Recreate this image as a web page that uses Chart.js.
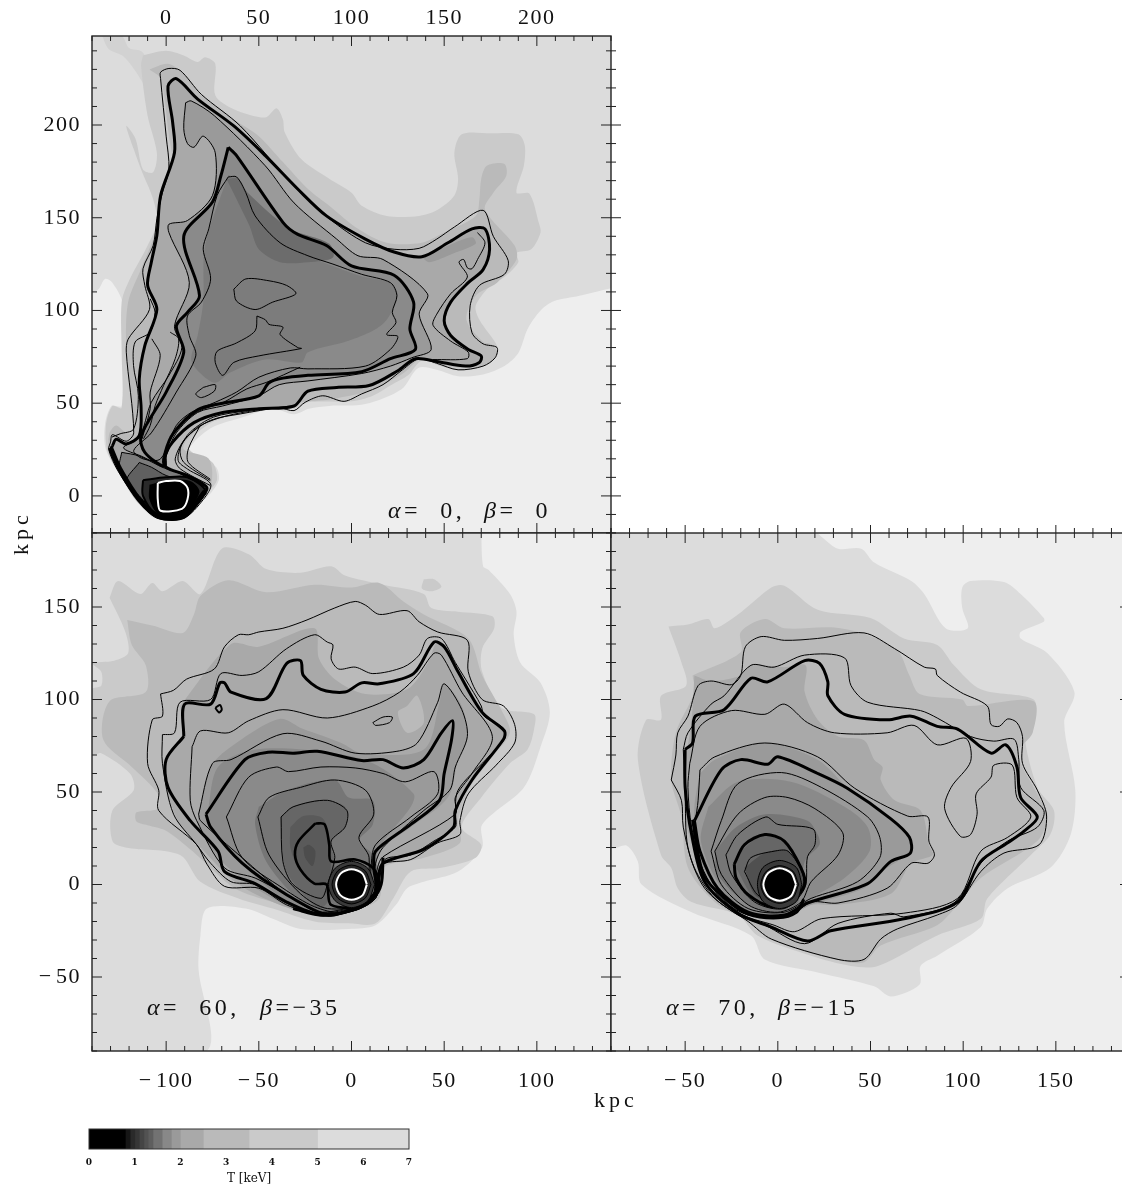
<!DOCTYPE html>
<html>
<head>
<meta charset="utf-8">
<script src="https://cdn.jsdelivr.net/npm/chart.js@4/dist/chart.umd.min.js"></script>
<style>
html,body{margin:0;background:#fff}
body{width:1122px;height:1186px;overflow:hidden;position:relative}
canvas{position:absolute}
.t{position:absolute;font:22px "Liberation Serif",serif;color:#111;white-space:pre;line-height:26px}
.t i{font-style:italic}
.n{font-size:24px;letter-spacing:3.5px}
</style>
</head>
<body>
<canvas id="panelA" width="640" height="545" style="left:0;top:0"></canvas>
<canvas id="panelB" width="617" height="575" style="left:0;top:525px"></canvas>
<canvas id="panelC" width="525" height="575" style="left:605px;top:525px"></canvas>
<canvas id="tempBar" width="360" height="66" style="left:70px;top:1120px"></canvas>
<div class="t n" style="left:388px;top:497px"><i>α</i>=  0,</div>
<div class="t n" style="left:484px;top:497px"><i>β</i>=  0</div>
<div class="t n" style="left:147px;top:994px"><i>α</i>=  60,</div>
<div class="t n" style="left:260px;top:994px"><i>β</i>=−35</div>
<div class="t n" style="left:666px;top:994px"><i>α</i>=  70,</div>
<div class="t n" style="left:778px;top:994px"><i>β</i>=−15</div>
<div class="t" style="left:594px;top:1087px;letter-spacing:4px">kpc</div>
<div class="t" style="left:-2px;top:520px;width:46px;text-align:center;letter-spacing:4px;transform:rotate(-90deg)">kpc</div>
<script>
// temperature bands of the colour bar
var tempEdges = [0, 0.8, 0.9, 1, 1.1, 1.2, 1.3, 1.4, 1.6, 1.8, 2, 2.5, 3.5, 5, 7];
var tempGreys = ['#000000', '#161616', '#2a2a2a', '#363636', '#454545', '#525252', '#5e5e5e', '#727272', '#888888', '#9a9a9a', '#a9a9a9', '#bababa', '#cacaca', '#dcdcdc'];
var tempTicks = [0, 1, 2, 3, 4, 5, 6, 7];

// axis labels
var aTickX = [0, 50, 100, 150, 200];
var aTickY = [0, 50, 100, 150, 200];
var bTickX = [-100, -50, 0, 50, 100];
var bTickY = [-50, 0, 50, 100, 150];
var cTickX = [-50, 0, 50, 100, 150];

// ---- panel alpha=0 beta=0, contours in kpc
var aT5 = [[240,112],[223,108],[209,105],[202,100],[195,90],[190,77],[182.5,70],[171,65.5],[157.5,64.5],[146,68],[136,69],[127,57.5],[107.5,49.5],[88,48.5],[77,47],[69,44],[57.5,47],[40,42],[25,37],[15,29],[11,21.5],[26.5,16],[28.5,9],[24.5,2],[19,-3.5],[9.5,-12],[-6,-12],[-13.5,-5.5],[-24,10],[-32.5,25],[-33,38.5],[-29.5,48.5],[-24,48.5],[-23.5,77],[-23.5,104],[-29,115],[-33,117],[-36.5,111.5],[-40,110.5],[-40,248],[240,248]];
var aTop = [[-34.5,248],[-31,241],[-23,237],[-16.5,229],[-10,218],[-4,204],[-1,204],[-8.5,230.5],[-13,239.5],[-20,241.5],[-24,248]];
var aT35 = [[-12.5,237.5],[0,240],[9.5,237.5],[17,234],[21,236.5],[26.5,233],[26.5,216],[36.5,208.5],[53.5,204],[59.5,209],[63,203],[64,196],[73,181.5],[88,171],[100,163.5],[105.5,156.5],[119,151],[136.5,151],[146,154],[155.5,162],[157.5,171],[155.5,185],[159.5,195],[175,195.5],[190,195],[193.5,189],[193,178],[189,163.5],[196,163],[201,147.5],[202,142],[197,133],[189,131],[190,126],[182.5,118],[175,113.5],[167,102.5],[169,95],[178.5,81],[178.5,75.5],[171,70],[159.5,67.5],[148,70],[138,73],[130.5,65],[121,59.5],[111.5,54],[100,51],[76.5,50.5],[69,47],[59.5,48.5],[40,44],[26.5,40.5],[17,34],[12.5,25],[25,18],[27.5,9],[24,3.5],[17,-3.5],[9.5,-11],[-5,-11],[-15.5,-3.5],[-25,11.5],[-31.5,23.5],[-32.5,38],[-29,48.5],[-24,47.5],[-24,77.5],[-24,104.5],[-20.5,115],[-10,135],[-5,147.5],[-7,160],[-13.5,176],[-17.5,187],[-21.5,199.5],[-16.5,192.5],[-12.5,176],[-7,174.5],[-5,185],[-10,205],[-13.5,232]];
var aT25 = [[-9,230],[1,233],[9.5,227.5],[19,216],[36.5,203],[50,194],[63,180],[76.5,165.5],[88,156.5],[103.5,144],[119,136.5],[138,136.5],[150,142],[167,151],[169,160],[170,171],[173,178],[182.5,179],[183.5,172.5],[176.5,163.5],[172,154.5],[188,135],[189,127.5],[178.5,115],[167,108],[162,95],[171,83],[175,82],[178.5,77.5],[175,72],[161.5,69],[148,71],[138,74.5],[128.5,66.5],[119,61],[107.5,56],[88,52],[73,50.5],[67,47],[57.5,50.5],[38,45],[25,42],[11.5,30.5],[9.5,25],[23,20],[24.5,7],[19,-2],[9.5,-11],[-6,-11],[-15.5,-2],[-27,16],[-31,27],[-30.5,34],[-27,38],[-21.5,34],[-17.5,34],[-21.5,81],[-20.5,104.5],[-13.5,122.5],[-7,138.5],[-5,147.5],[-2,162],[3.5,178],[1.5,194],[-3,225]];
var aLine1 = [[-30,29],[-29,33],[-21.5,29.5],[-17.5,34],[-21.5,77.5],[-20.5,84.5],[-9,100.5],[-11.5,113.5],[-12.5,122.5],[-7,135],[-5,149.5],[-2,163.5],[1.5,176],[0,194],[-3,225],[-3,228.5],[1.5,230.5],[7.5,229.5],[19,216.5],[40,199.5],[69,167],[88,149.5],[107.5,136.5],[123,133],[136.5,133.5],[146,138.5],[155.5,145],[171,154],[176.5,140],[184.5,127],[182.5,119.5],[169,113.5],[164,102.5],[165,88],[171,82],[178.5,80],[177.5,74.5],[171,70],[157.5,68],[146,71.5],[136.5,74],[127.5,68],[117,60],[105.5,55],[96,51],[84.5,54],[75,50.5],[69,46],[61,47.5],[44,45.5],[28.5,42],[17,37],[8.5,28],[6.5,19],[11.5,14.5],[24,6.5],[20,-2],[9.5,-12],[-5,-12],[-15.5,-2],[-26,13.5],[-31,25]];
var aLine2 = [[-29,27],[-27,30.5],[-21.5,28],[-14.5,32.5],[-13.5,47],[-14.5,63],[-11.5,81],[-5,100.5],[-10,113.5],[-8,126],[-5,140.5],[-3,162],[4.5,185],[3.5,201.5],[1,221],[5.5,225],[17,214],[36.5,199.5],[53.5,183.5],[71,165.5],[86.5,151],[107.5,138.5],[123,131.5],[138,129],[152,136.5],[165,144],[172,144],[174.5,133],[171,122],[163,115],[153.5,104.5],[150,94.5],[153.5,86.5],[163,79],[170,75.5],[169,72],[161.5,70],[146,72.5],[134.5,74],[125,67.5],[109.5,59.5],[92,58.5],[76.5,56.5],[69,48.5],[50,47],[30.5,45],[15,39.5],[3.5,29],[-1,20],[0,15.5],[11.5,11],[22,4.5],[18,-2],[9.5,-11],[-4,-11],[-14.5,-2],[-25,14.5],[-30,24.5]];
var aLine3 = [[10.5,212],[13.5,213],[26,205],[53.5,178],[69,158],[92,138.5],[103.5,129.5],[117,127.5],[141,109],[136.5,98],[143,79],[132.5,74.5],[121,70],[105.5,66],[76.5,62],[61,60],[50,54],[30.5,48.5],[17,45],[5.5,34],[0,21.5],[-0.5,16],[-13.5,21.5],[-23,26],[-14.5,31.5],[-8,50.5],[1.5,65],[8.5,80],[4.5,91.5],[12.5,115],[1.5,142],[1.5,146.5],[11.5,148.5],[25,162],[26.5,185],[20,194],[15,188],[11.5,190],[9.5,198]];
var aLine4 = [[33.5,188],[38,183.5],[63,147.5],[71,141],[86.5,135],[100,124],[123,119],[133.5,104.5],[131.5,90],[134.5,79],[121,74],[105.5,67],[76.5,65],[63,63.5],[55.5,61],[50,54],[30.5,50],[17,46.5],[4,34],[-0.5,23.5],[-1,16],[-11.5,23.5],[-13.5,32.5],[0,56],[9.5,77.5],[5.5,91.5],[11.5,99],[18,108],[9.5,140],[25,158.5],[29.5,172.5]];
var aLine5 = [[33.5,172],[38,172],[43,163.5],[48,151],[61.5,136.5],[76.5,129.5],[90,125],[105.5,119.5],[121,115],[124.5,108],[122,99],[124,93.5],[119,87],[125,86],[121,79],[107.5,70],[76.5,68.5],[67,69],[50,64],[38,56],[26.5,50.5],[13.5,45],[5.5,38],[-3,20],[-12.5,20],[-17.5,24.5],[-8,34],[5.5,56],[16,75.5],[12.5,86.5],[11.5,97],[19,104.5],[24,117],[20,133],[23,144],[27.5,162]];
var aT14 = [[33.5,173],[39,171],[48,151],[61.5,138.5],[76.5,129.5],[90,124],[105.5,118.5],[121,115],[125,108],[119,95],[111.5,89],[98,83.5],[76.5,77.5],[73,72],[53.5,73.5],[34.5,66.5],[26.5,61],[18,66.5],[13.5,73.5],[17,86.5],[20,104.5],[21,135]];
var aT13 = [[32.5,171],[39,171],[44,163.5],[67,144],[88,136],[90,128.5],[76.5,126],[61.5,126],[50,133],[45,145.5],[38,160]];
var aLobe = [[138,128.5],[152,135],[165,139.5],[167,136],[155.5,131],[142,126]];
var aIso1 = [[36.5,111.5],[43,117],[55.5,116],[65,113.5],[70,109],[57.5,104.5],[48,100.5],[38,105]];
var aIso2 = [[49,97],[53.5,95],[55.5,92.5],[63,91],[61.5,87],[71,80],[73,79.5],[50,75.5],[36.5,72],[30.5,65],[26.5,72],[27.5,78],[38,82.5],[48,89]];
var aIso3 = [[20,58.5],[26.5,60],[26,56.5],[19,53],[16,55]];
var aOpen = [[168,142],[172,136.5],[168,127.5],[165,122.5],[162.5,123],[160.5,127.5],[158,126],[162.5,118],[153.5,109],[146,98],[144,92],[153.5,83.5],[163,77.5],[162.5,74],[144,73.5]];
var aNeck1 = [[-8.6,106.3],[-6,99],[-8.6,88.3],[-16.7,83],[-17.6,70.3],[-15,54],[-17.6,36],[-24.8,33.5],[-29.3,31.7]];
var aNeck2 = [[-7.7,84.7],[-3.2,75.7],[-8.6,56],[-8.6,47],[-13,30.8]];
var aNeck3 = [[2.2,88.3],[6.7,84.7],[4.9,74],[-1.4,59.5],[-5.9,48.7],[-8.6,38],[-12.2,30.8]];
var aNeck4 = [[72.3,69.4],[54.3,61.3],[43.5,57.7],[31,50.5],[16.6,45.2],[4.9,34.4],[-1.4,21.8],[-1.4,16.4],[7.6,11.9],[22,4.7]];
var aNeck5 = [[70.5,48.8],[61.5,47.8],[40,44.2],[23.8,40.7],[10.3,30.8],[4.9,20],[7.6,14.6],[23.8,5.6]];
var aNeck6 = [[43.5,46],[25.6,42.5],[13,34.4],[7.6,25.4],[9.4,18.2],[23.8,8.3]];
var aNeck7 = [[18.4,38],[12,25.4],[12,18],[23.8,9]];
var aCore1 = [[-24,23.5],[-14.5,21.5],[-1,15],[11.5,11],[21.5,3.5],[18,-2],[8.5,-10],[-4,-10],[-14.5,-1],[-25,15]];
var aCore2 = [[-14.5,18],[-8,15.5],[0,11],[19,5.5],[21,2],[9.5,-9.5],[-4,-9.5],[-14.5,0],[-21.5,8]];
var aCore3 = [[-12.5,8.5],[0,10],[11.5,10],[21,2.5],[9.5,-10.5],[-5,-10],[-12.5,0]];
var aCore4 = [[-9,6],[0,8.5],[13,8],[18,2],[9,-10],[-4,-10],[-9,-2]];
var aRing = [[-4.5,7],[0,8],[7.5,8],[11.5,4.5],[11.5,-2],[8.5,-7],[-3,-8],[-4.5,-2]];
var aEdge = [[-30,26],[-25,14.5],[-14.5,-2],[-4,-11],[9.5,-11],[21,2.5]];

// ---- panel alpha=60 beta=-35
var bT5 = [[70,190],[71,172],[74,170],[85.5,157],[89,147.5],[87.5,135],[91,120],[102,109],[107,93],[102,74.5],[93,52.5],[70.5,32.5],[70.5,20],[57.5,7],[39,1.5],[30,-2],[24,-11],[13,-22],[-1.5,-24],[-27.5,-24],[-42.5,-18.5],[-57,-13],[-78,-13],[-81.5,-27.5],[-82.5,-46],[-78,-90],[-140,-90],[-140,190]];
var bT35 = [[-130.5,155],[-126,164],[-114,157],[-107.5,163],[-102,158.5],[-91,164],[-81.5,157],[-70,181.5],[-55.5,178.5],[-46,170.5],[-27.5,168.5],[-11,172],[-3.5,167],[17,162],[39,157],[43,149.5],[57.5,147.5],[76,145],[77,138.5],[70.5,127.5],[70.5,115],[81,95.5],[98.5,92],[98.5,84],[95,73],[85.5,65.5],[70,47],[59.5,31],[70,21.5],[67,14.5],[48.5,9],[32,7],[22.5,-7.5],[13,-21],[-1.5,-21],[-20,-20],[-42.5,-13],[-61,-7.5],[-81.5,1.5],[-92.5,16],[-122,20],[-129,23.5],[-129,40],[-117.5,51],[-119.5,60],[-135,71],[-140,70],[-140,105.5],[-135,107.5],[-135,115],[-140,119.5],[-128,121],[-120.5,125],[-122,136.5]];
var bDot = [[39,165],[44.5,165],[48.5,161],[43,158.5],[38,160]];
var bT25 = [[-121,143],[-107.5,140],[-91,136],[-85,146],[-81.5,156],[-66.5,164.5],[-46,158],[-20,162],[0,160.5],[15,163],[28,153],[39,146],[63,133],[70.5,113],[81,94],[85.5,82],[76,69],[63,51],[57.5,34.5],[58.5,22.5],[39,14.5],[17,9],[15,-7.5],[-1.5,-15],[-20,-16.5],[-42.5,-9.5],[-63,-2],[-83.5,16],[-100,29],[-110,32],[-116,34],[-116,39],[-104.5,41],[-104.5,49],[-118.5,63.5],[-134,78.5],[-130.5,99],[-111,104],[-111,118.5],[-118.5,129.5]];
var bT2 = [[-92.5,96.5],[-65,130],[-50,128.5],[-20,138.5],[-17.5,122],[-9,111],[7.5,103],[30,105.5],[41,119.5],[46.5,131],[56,118.5],[63,104],[72.5,89],[82.5,82],[65,56.5],[56,40],[56,31],[39,18],[17,11.5],[13,-5.5],[-1.5,-15],[-20,-16.5],[-42.5,-9.5],[-63,1.5],[-79.5,18],[-92.5,32.5],[-100,52.5],[-100,67.5],[-90.5,80]];
var bPatch = [[30,96.5],[35.5,102],[39,87.5],[30,82],[25,93]];
var bT18 = [[-82.5,38],[-76,63.5],[-65,74.5],[-39,89.5],[-26,84],[-5.5,76.5],[5.5,71],[39,73],[47.5,98.5],[50,108.5],[59.5,96.5],[62.5,80],[57.5,67.5],[52,47],[32,31],[17,20],[13,9],[13,-5.5],[-1.5,-15],[-20,-16.5],[-42.5,-7.5],[-68.5,11],[-82.5,31]];
var bT16 = [[-77.5,40],[-72,63.5],[-52,73],[-16.5,72],[11.5,65.5],[33.5,49],[32,42],[15,20],[13,9],[13,-6.5],[-1.5,-15],[-18.5,-16.5],[-37,-7.5],[-59,11],[-77.5,34.5]];
var bT14 = [[-50,42],[-35,51],[-9,56.5],[-1.5,47],[11.5,45.5],[11.5,32.5],[4,23.5],[13,14.5],[11.5,-5.5],[-1.5,-14],[-16.5,-16.5],[-29.5,-7.5],[-46,12.5],[-52,32.5]];
var bT12 = [[-38,37],[-31.5,42],[-16.5,45.5],[-3.5,42],[-3.5,31],[-11,23.5],[-9,12.5],[-9,-2],[-16.5,-13],[-24,-7.5],[-35,7],[-38,27]];
var bT11 = [[-33,31],[-26,37],[-16.5,36.5],[-13,31],[-11,14.5],[-13,0],[-20,1.5],[-29.5,11],[-33,20]];
var bT10 = [[-26,20],[-23,21.5],[-19.5,18],[-21,10],[-25,14.5]];
var bLine1 = [[-103,103],[-96,105],[-89,111],[-74,116.5],[-68.5,128.5],[-61,135],[-55.5,135],[-50,136.5],[-37,138.5],[-24,143],[-9,149.5],[2,153],[7.5,151],[15,146],[30,148],[36.5,142],[46.5,136.5],[62.5,132],[63,115],[70.5,100],[82,96.5],[88,86.5],[88,76.5],[78,64.5],[63,49],[58.5,34.5],[58.5,27],[46.5,22.5],[32,13.5],[17,11],[15,1.5],[13,-7.5],[2,-14],[-16.5,-16.5],[-35,-11],[-50,-2],[-68.5,-1],[-78,11],[-83.5,21.5],[-104,40],[-104,51],[-110,65.5],[-107.5,89],[-102,91]];
var bLine2 = [[-102,81],[-95.5,82],[-92.5,98.5],[-76,100],[-70.5,114],[-59,113],[-50,115],[-35,127.5],[-20,135],[-13,131],[-10,129.5],[-11,122],[-7,116.5],[2,117.5],[11.5,114],[28,117.5],[36.5,124],[41,133],[48.5,133],[56,120],[61.5,111],[70,96.5],[71.5,91],[82.5,84],[82.5,78.5],[72.5,67.5],[57.5,51],[56,38],[56,31],[44.5,23.5],[32,16],[18,13.5],[15,1.5],[13,-7.5],[2,-14],[-16.5,-15.5],[-33,-11],[-52,0],[-65,1.5],[-76,11.5],[-83.5,21.5],[-96,38],[-102,65.5]];
var bLine3 = [[-90.5,80],[-90,97.5],[-76,97.5],[-71,109],[-68.5,109],[-65,104],[-46,100.5],[-35,119.5],[-27.5,121],[-26,113],[-16.5,105.5],[-3.5,104],[5.5,109],[15,108.5],[33.5,114],[44.5,131],[50,128.5],[57.5,115],[70.5,93],[82.5,83],[82,78.5],[65,56.5],[56,40],[55,31],[39,19],[17,11.5],[14,1.5],[11.5,-7.5],[0,-14],[-16.5,-16.5],[-35,-9.5],[-52,0.5],[-68.5,7],[-72,18],[-87,34.5],[-99,52.5],[-100,67.5]];
var bLine4 = [[-86,74.5],[-81.5,83],[-66.5,82],[-55.5,88.5],[-37,94.5],[-13,90],[11.5,96.5],[26,104],[35.5,113],[44.5,125],[48.5,124],[59.5,104],[76,80],[65,60],[56,47],[56,38],[17,15],[14,9],[11.5,-6.5],[-16.5,-15],[-35,-5.5],[-52,3.5],[-68.5,9],[-83.5,34.5],[-87,45.5]];
var bLine5 = [[-82.5,38],[-75,65.5],[-65,67.5],[-37,81.5],[-16.5,77.5],[2,71],[24.5,72],[35.5,76.5],[46.5,98.5],[50,108.5],[59.5,94.5],[62.5,80],[56,63.5],[53,51],[39,40],[17,20],[13,11.5],[11.5,-5.5],[-1.5,-13],[-16.5,-15],[-35,-5.5],[-59,14.5],[-81.5,34.5]];
var bLine6 = [[-78.5,38],[-57.5,67.5],[-45,71.5],[-31.5,71],[-18.5,72],[5.5,67],[17,67.5],[28,63],[39,67.5],[48.5,82],[54.5,88.5],[54,78.5],[50,60],[47.5,45.5],[32,32.5],[13,18],[12,9],[13,-4],[0,-13],[-13,-16.5],[-35,-5.5],[-59,11.5],[-76,31]];
var bLine7 = [[-67.5,36.5],[-55.5,58],[-40.5,63.5],[-34,61],[-16.5,63.5],[2,63],[17,60],[29,55.5],[44.5,61],[46.5,49],[32,36.5],[13,21.5],[10.5,9],[9.5,-7.5],[-5.5,-15],[-20,-12],[-37,-2],[-59,14.5]];
var bLine8 = [[-50.5,36.5],[-44.5,47],[-27.5,52.5],[-9,56.5],[7.5,51],[12,38],[4,25.5],[9.5,14.5],[5.5,-9.5],[-13,-13],[-27.5,-5],[-44.5,16]];
var bLine9 = [[-38,36.5],[-31.5,42],[-13,45.5],[-2.5,40],[-3.5,31],[-11,23.5],[-9,14.5],[-13,0],[-16.5,-7.5],[-31.5,0],[-37,12.5]];
var bLine10 = [[-19.5,33],[-14.5,32.5],[-12,21.5],[-11,12.5],[2,13.5],[11.5,9],[15,0],[7.5,-11],[-11,-11],[-13.5,0],[-20,0.5],[-27.5,8],[-30.5,16],[-28.5,23.5]];
var bIso1 = [[11.5,87.5],[17,90.5],[22,90.5],[20.5,87.5],[13,86]];
var bIso2 = [[-73.5,95.5],[-71,97],[-70,94.5],[-71.5,93]];
var bEdge = [[17,14.5],[16,0],[11.5,-7.5],[0,-14],[-16.5,-16.5],[-31.5,-13]];
var bRing12 = [[12.5,0],[8.8,8.8],[0,12.5],[-8.8,8.8],[-12.5,0],[-8.8,-8.8],[0,-12.5],[8.8,-8.8]];
var bRing10 = [[10.5,0],[7.4,7.4],[0,10.5],[-7.4,7.4],[-10.5,0],[-7.4,-7.4],[0,-10.5],[7.4,-7.4]];
var bRing8 = [[8.3,0],[5.9,5.9],[0,8.3],[-5.9,5.9],[-8.3,0],[-5.9,-5.9],[0,-8.3],[5.9,-5.9]];

// ---- panel alpha=70 beta=-15
var cT5 = [[21.5,190],[23.5,188],[32.5,181.5],[45,181.5],[52,174],[72,164],[79,157],[90.5,138.5],[102.5,138.5],[99.5,149.5],[99.5,160.5],[104,164],[122,163.5],[131,157],[143.5,144],[143.5,142],[131,136.5],[131,133],[145.5,125],[160,104],[154.5,87.5],[160.5,51],[158,27],[147,9],[124,-2],[113,-13],[109.5,-23],[86,-38.5],[77,-44],[76.5,-54],[61,-60.5],[52,-55],[21.5,-47.5],[-7,-40.5],[-14.5,-27.5],[-46.5,-15],[-73.5,0],[-75.5,12.5],[-81.5,21],[-90,20],[-90,190]];
var cT35 = [[-59,139.5],[-48.5,140.5],[-37.5,143.5],[-34,138.5],[-19.5,147.5],[-3.5,160.5],[3.5,161.5],[21.5,148.5],[50,144],[68,133],[86,129.5],[95,118.5],[109.5,105.5],[138,100],[138,89],[133,82],[140,52.5],[149,40],[147,27],[136.5,16],[113,-7.5],[109.5,-18.5],[86,-27.5],[54,-44],[39.5,-44],[18,-38.5],[-11,-27.5],[-21.5,-16.5],[-46.5,-9.5],[-54,-2],[-57.5,9],[-63,16],[-75.5,67.5],[-71,89],[-63,89],[-63,102],[-49.5,107.5],[-52,120]];
var cT25 = [[-46,113],[-20,125.5],[-20,136.5],[-7,143.5],[3.5,138.5],[28.5,139],[46.5,135.5],[64.5,126.5],[71,113],[76.5,103],[99.5,100],[102.5,96.5],[138,99],[137.5,82],[129.5,71],[140,49],[145.5,36.5],[140,23.5],[109.5,3.5],[97,-11],[86,-22],[55.5,-33],[46.5,-42],[32.5,-41],[-3.5,-30],[-16,-20],[-34,-9.5],[-48.5,9],[-52,36.5],[-57.5,56.5],[-55,82],[-45,104]];
var cT2 = [[-45,113],[-36,110],[-20,113],[-14.5,118.5],[3.5,117.5],[15,118.5],[14.5,104],[21.5,89],[32.5,80],[46.5,78],[52,67.5],[56.5,63.5],[55.5,56.5],[63,45.5],[77,40],[81.5,21.5],[83.5,16],[72,11.5],[61,-5],[32.5,-11],[18,-11],[5.5,-17.5],[-16,-16.5],[-34,-5.5],[-45,18],[-50,36.5],[-50,63.5],[-46.5,89]];
var cT18 = [[-42,60],[-34,67.5],[-7,76.5],[21.5,67.5],[37.5,52.5],[61,35.5],[71,25.5],[72,18],[59,9],[46.5,-2],[18,-11],[3.5,-17.5],[-16,-16.5],[-32.5,-5.5],[-44,18],[-45,42]];
var cT16 = [[-37.5,42],[-21.5,55.5],[7,55.5],[36,42],[48.5,31],[49.5,18],[36,3.5],[18,-7.5],[3.5,-17.5],[-16,-15.5],[-30.5,-2],[-41.5,23.5]];
var cT14 = [[-34,18],[-22.5,31],[-6.5,38],[16,34.5],[21.5,27],[22.5,21.5],[14.5,12.5],[11,-9.5],[0,-15],[-16,-11],[-32.5,5.5]];
var cT12 = [[-22.5,9],[-21.5,16],[-7,27],[5.5,21.5],[12.5,9],[14.5,-2],[2,-11],[-12.5,-7.5]];
var cT11 = [[-18,9],[-7,17],[5.5,18],[13.5,5.5],[12.5,-4],[0,-10],[-12.5,-5.5]];
var cLine1 = [[-57.5,56.5],[-55,70],[-54,82],[-48.5,91],[-43,107.5],[-36,110],[-25,108],[-20,113],[-17.5,128.5],[-9,134],[3.5,132],[21.5,133],[46.5,136],[63,127.5],[79,117.5],[85,116.5],[86,113],[98.5,104],[113,96.5],[115,86.5],[119.5,85.5],[124,89.5],[129,87.5],[132,80],[132,65.5],[140,51],[145,37],[141,21.5],[122,17],[109.5,7],[97,-11],[86,-16.5],[64.5,-24],[55.5,-29.5],[46.5,-40.5],[32.5,-40.5],[-3.5,-29.5],[-16,-20],[-34,-7.5],[-45,9],[-51,31],[-52,45.5]];
var cLine2 = [[-51,73],[-48.5,82],[-36,97.5],[-29,102],[-14.5,118.5],[-2,117.5],[14.5,124],[36,122.5],[39.5,107.5],[48.5,98.5],[77,94],[86,90],[104,80],[116.5,77.5],[127.5,78.5],[130,67.5],[131,52.5],[143.5,40],[140,31],[124,23.5],[109.5,11.5],[95,-10],[68,-17.5],[61,-15.5],[32.5,-21],[14.5,-32],[-7,-22],[-21.5,-16.5],[-39.5,-2],[-48.5,20],[-50,49]];
var cLine3 = [[-50,73],[-46,76.5],[-44.5,91],[-29,94.5],[-14.5,111.5],[-5.5,109.5],[14.5,121],[22.5,119.5],[27,109.5],[27,102],[36,92],[59,89],[72,91],[86,85.5],[97,84],[115,71],[123,75.5],[129,63.5],[131,47],[140,36.5],[133,29],[124,22.5],[109.5,12.5],[97,-9.5],[68,-18.5],[28.5,-25],[16,-30.5],[-3.5,-23],[-21.5,-15.5],[-39.5,1.5],[-46.5,27],[-50,52.5]];
var cLine4 = [[-47.5,65.5],[-42,85.5],[-25,94],[-7,92],[3.5,97.5],[16,87.5],[30.5,82],[59,82],[73.5,86],[86,75.5],[101.5,79],[104,66.5],[93.5,52.5],[90,41],[98.5,26],[104,27],[107.5,38],[107,49],[115,58],[116.5,64.5],[126.5,64.5],[129,47],[136.5,36.5],[124,25.5],[109.5,18],[97,-7.5],[68,-15.5],[23.5,-18.5],[9,-25.5],[-2,-22],[-21.5,-15],[-39.5,5.5],[-46.5,31],[-48.5,52.5]];
var cLine5 = [[-42,62],[-34,69],[-7,76.5],[21.5,69],[41.5,52],[70,37],[81,36.5],[81.5,23.5],[84.5,16],[81,11.5],[72,11.5],[59,-2],[32.5,-10],[18,-9.5],[7,-16.5],[-16,-16.5],[-32.5,-5.5],[-45,21.5],[-43,45.5]];
var cLine6 = [[-45,34.5],[-30.5,62],[-20,67.5],[-5.5,65],[0,69],[21.5,60],[37.5,52],[61,35.5],[71,25.5],[71.5,17],[61,12.5],[48.5,0.5],[16,-10],[3.5,-16.5],[-16,-15],[-32.5,-2],[-42,18]];
var cLine7 = [[-36,18],[-30.5,34.5],[-21.5,54.5],[2,60.5],[23.5,52.5],[48.5,36.5],[55,25.5],[55,14.5],[43,1.5],[18,-7.5],[3.5,-15],[-16,-13],[-30.5,0]];
var cLine8 = [[-34,18],[-21.5,38],[-7,47],[5.5,47],[20,41],[35,28],[32.5,16],[18,1.5],[12.5,-9.5],[0,-15],[-16,-11],[-30.5,5.5]];
var cLine9 = [[-28,16],[-21.5,27],[-6.5,36.5],[0,32.5],[19,30],[20,21.5],[16,15],[14.5,-2],[3.5,-13],[-12.5,-9.5],[-25,5.5]];
var cLine10 = [[-23.5,11],[-18,21.5],[-7,27],[3.5,23.5],[12.5,9],[14.5,0],[7,-9.5],[-3.5,-12],[-16,-5.5],[-22.5,3.5]];
var cLine11 = [[-18,7],[-14.5,14.5],[-2,18],[5.5,18],[13.5,5.5],[12.5,-4.5],[0,-10],[-11,-5.5]];
var cEdge = [[-46,35],[-40,5],[-28,-8],[-16,-16],[0,-18],[10,-15],[14,-8]];
var cRing12 = [[13,0],[10,9.2],[1,13],[-8,9.2],[-11,0],[-8,-9.2],[1,-13],[10,-9.2]];
var cRing10 = [[11.2,0],[8.2,7.2],[1,10.2],[-6.2,7.2],[-9.2,0],[-6.2,-7.2],[1,-10.2],[8.2,-7.2]];
var cRing8 = [[9.8,0],[7.2,6.2],[1,8.8],[-5.2,6.2],[-7.8,0],[-5.2,-6.2],[1,-8.8],[7.2,-6.2]];

var BG = '#eeeeee';

function poly(pts, fillColor, width, color, open) {
    var data = pts.map(function (p) { return {x: p[0], y: p[1]}; });
    if (!open) data.push({x: pts[0][0], y: pts[0][1]});
    return {
        data: data,
        showLine: true,
        fill: fillColor ? 'shape' : false,
        backgroundColor: fillColor || 'transparent',
        borderColor: color || '#000',
        borderWidth: width || 0,
        pointRadius: 0,
        tension: 0.3
    };
}
function thin(pts) { return poly(pts, null, 1, '#000', true); }

// tick marks of the frame, inward on all sides, some panels also outward
function frameTicks(rightOut, topOut) {
    return {
        id: 'frameTicks',
        beforeDraw: function (c) { c.ctx.letterSpacing = '1.5px'; },
        afterDraw: function (c) {
            var ctx = c.ctx, a = c.chartArea, x = c.scales.x, y = c.scales.y;
            ctx.save();
            ctx.strokeStyle = '#222';
            ctx.lineWidth = 1;
            ctx.beginPath();
            for (var v = Math.ceil(x.min / 10) * 10; v <= x.max; v += 10) {
                var px = x.getPixelForValue(v), l = v % 50 === 0 ? 10 : 5;
                ctx.moveTo(px, a.bottom); ctx.lineTo(px, a.bottom - l);
                ctx.moveTo(px, a.top); ctx.lineTo(px, a.top + l);
                if (topOut) { ctx.moveTo(px, a.top); ctx.lineTo(px, a.top - l); }
            }
            for (var w = Math.ceil(y.min / 10) * 10; w <= y.max; w += 10) {
                var py = y.getPixelForValue(w), m = w % 50 === 0 ? 10 : 5;
                ctx.moveTo(a.left, py); ctx.lineTo(a.left + m, py);
                ctx.moveTo(a.right, py); ctx.lineTo(a.right - m, py);
                if (rightOut) { ctx.moveTo(a.right, py); ctx.lineTo(a.right + m, py); }
            }
            ctx.stroke();
            ctx.lineWidth = 1.4;
            ctx.strokeRect(a.left, a.top, a.right - a.left, a.bottom - a.top);
            ctx.restore();
        }
    };
}

function panel(id, layers, lim, tickX, tickY, xPos, size, pad, plug) {
    layers.forEach(function (d, i) { d.order = layers.length - i; });
    var font = {family: '"Liberation Serif", serif', size: 22};
    var minus = function (v) { return String(v).replace('-', '−\u200a'); };
    return new Chart(document.getElementById(id), {
        type: 'scatter',
        data: {datasets: layers},
        plugins: [plug],
        options: {
            responsive: false,
            animation: false,
            devicePixelRatio: 1,
            layout: {padding: pad},
            plugins: {legend: {display: false}, tooltip: {enabled: false}},
            scales: {
                x: {
                    type: 'linear', position: xPos, min: lim[0], max: lim[1],
                    grid: {display: false, drawTicks: false}, border: {display: false},
                    afterBuildTicks: function (s) { s.ticks = tickX.map(function (v) { return {value: v}; }); },
                    afterFit: function (s) { s.height = size[1]; s.paddingLeft = 0; s.paddingRight = 0; },
                    ticks: {font: font, color: '#111', padding: xPos === 'top' ? 5 : 17, maxRotation: 0, autoSkip: false, callback: minus}
                },
                y: {
                    type: 'linear', min: lim[2], max: lim[3],
                    grid: {display: false, drawTicks: false}, border: {display: false},
                    afterBuildTicks: function (s) { s.ticks = tickY.map(function (v) { return {value: v}; }); },
                    afterFit: function (s) { s.width = size[0]; s.paddingTop = 0; s.paddingBottom = 0; },
                    ticks: {display: tickY.length > 0, font: font, color: '#111', padding: 11, autoSkip: false, callback: minus}
                }
            }
        }
    });
}

panel('panelA', [
    poly([[-40,-20],[240,-20],[240,248],[-40,248]], BG),
    poly(aT5, '#dcdcdc'), poly(aTop, '#d2d2d2'), poly(aT35, '#cacaca'), poly(aT25, '#bababa'),
    poly(aLine2, '#a9a9a9'), poly(aLobe, '#9a9a9a'), poly(aLine3, '#9a9a9a'), poly(aLine4, '#8a8a8a'),
    poly(aT14, '#7c7c7c'), poly(aT13, '#6c6c6c'),
    poly(aCore1, '#7c7c7c', 1), poly(aCore2, '#606060', 1), poly(aCore3, '#2a2a2a', 2), poly(aCore4, '#000000'),
    poly(aLine1, null, 1), poly(aLine2, null, 3), poly(aLine3, null, 1), poly(aLine4, null, 3), poly(aLine5, null, 1),
    poly(aIso1, null, 1), poly(aIso2, null, 1), poly(aIso3, null, 1), thin(aOpen),
    thin(aNeck1), thin(aNeck2), thin(aNeck3), thin(aNeck4), thin(aNeck5), thin(aNeck6), thin(aNeck7),
    poly(aEdge, null, 5, '#000', true), poly(aRing, '#000000', 2, '#ffffff')
], [-40, 240, -20, 248], aTickX, aTickY, 'top', [92, 36], {right: 29, bottom: 12}, frameTicks(true, false));

panel('panelB', [
    poly([[-140,-90],[140,-90],[140,190],[-140,190]], BG),
    poly(bT5, '#dcdcdc'), poly(bT35, '#cacaca'), poly(bDot, '#cacaca'), poly(bT25, '#bababa'),
    poly(bT2, '#a9a9a9'), poly(bPatch, '#bababa'), poly(bT18, '#9a9a9a'), poly(bT16, '#8a8a8a'),
    poly(bT14, '#767676'), poly(bT12, '#666666'), poly(bT11, '#5a5a5a'), poly(bT10, '#4d4d4d'),
    poly(bLine1, null, 1), poly(bLine2, null, 1), poly(bLine3, null, 3), poly(bLine4, null, 1), poly(bLine5, null, 1),
    poly(bLine6, null, 3), poly(bLine7, null, 1), poly(bLine8, null, 1), poly(bLine9, null, 1), poly(bLine10, null, 2.6),
    poly(bIso1, null, 1), poly(bIso2, null, 2), poly(bEdge, null, 3, '#000', true),
    poly(bRing12, '#3a3a3a', 1), poly(bRing10, '#262626', 1), poly(bRing8, '#000000', 2, '#ffffff')
], [-140, 140, -90, 190], bTickX, bTickY, 'bottom', [92, 49], {top: 8, right: 6}, frameTicks(false, false));

panel('panelC', [
    poly([[-90,-90],[190,-90],[190,190],[-90,190]], BG),
    poly(cT5, '#dcdcdc'), poly(cT35, '#cacaca'), poly(cT25, '#bababa'), poly(cT2, '#a9a9a9'),
    poly(cT18, '#9a9a9a'), poly(cT16, '#8a8a8a'), poly(cT14, '#767676'), poly(cT12, '#666666'), poly(cT11, '#505050'),
    poly(cLine1, null, 1), poly(cLine2, null, 1), poly(cLine3, null, 3), poly(cLine4, null, 1), poly(cLine5, null, 1),
    poly(cLine6, null, 3), poly(cLine7, null, 1), poly(cLine8, null, 1), poly(cLine9, null, 1), poly(cLine10, null, 3), poly(cLine11, null, 1),
    poly(cEdge, null, 3, '#000', true),
    poly(cRing12, '#3a3a3a', 1), poly(cRing10, '#262626', 1), poly(cRing8, '#000000', 2, '#ffffff')
], [-90, 190, -90, 190], cTickX, [], 'bottom', [6, 49], {top: 8}, frameTicks(false, true));

// colour bar as one stacked bar
var bands = tempGreys.map(function (g, i) {
    return {data: [tempEdges[i + 1] - tempEdges[i]], backgroundColor: g, borderWidth: 0, barPercentage: 1, categoryPercentage: 1};
});
new Chart(document.getElementById('tempBar'), {
    type: 'bar',
    data: {labels: ['T'], datasets: bands},
    plugins: [{
        id: 'barFrame',
        afterDraw: function (c) {
            var a = c.chartArea;
            c.ctx.strokeStyle = '#333';
            c.ctx.lineWidth = 1;
            c.ctx.strokeRect(a.left, a.top, a.right - a.left, a.bottom - a.top);
        }
    }],
    options: {
        indexAxis: 'y',
        responsive: false,
        animation: false,
        devicePixelRatio: 1,
        layout: {padding: {left: 19, right: 21, top: 9}},
        plugins: {legend: {display: false}, tooltip: {enabled: false}},
        scales: {
            y: {stacked: true, display: false},
            x: {
                stacked: true, min: 0, max: 7,
                grid: {display: false, drawTicks: false}, border: {display: false},
                afterBuildTicks: function (s) { s.ticks = tempTicks.map(function (v) { return {value: v}; }); },
                afterFit: function (s) { s.height = 37; s.paddingLeft = 0; s.paddingRight = 0; },
                ticks: {font: {family: '"DejaVu Serif", serif', size: 9, weight: 'bold'}, color: '#111', padding: 8, maxRotation: 0, autoSkip: false},
                title: {display: true, text: 'T [keV]', font: {family: '"DejaVu Serif", serif', size: 12}, color: '#111', padding: {top: -3, bottom: 0}}
            }
        }
    }
});
</script>
</body>
</html>
